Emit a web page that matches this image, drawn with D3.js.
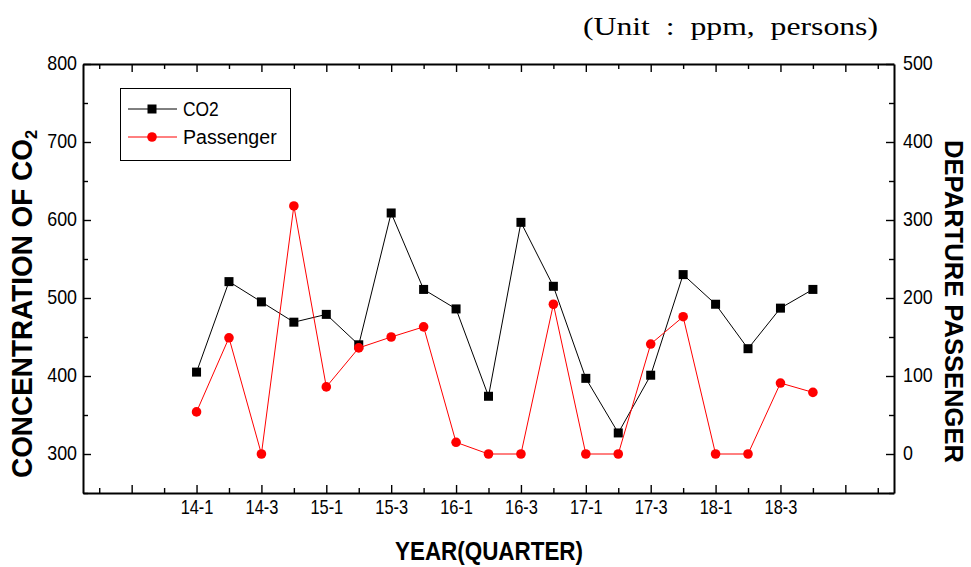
<!DOCTYPE html>
<html>
<head>
<meta charset="utf-8">
<script src="https://cdn.jsdelivr.net/npm/d3@7"></script>
<style>
  body { margin: 0; background: #fff; }
  svg { display: block; font-family: "Liberation Sans", Arial, sans-serif; }
</style>
</head>
<body>
<div id="chart"></div>
<script>
// quarterly data
const quarters = ['14-1', '14-2', '14-3', '14-4', '15-1', '15-2', '15-3', '15-4',
  '16-1', '16-2', '16-3', '16-4', '17-1', '17-2', '17-3', '17-4',
  '18-1', '18-2', '18-3', '18-4'];
const co2 = [405, 521, 495, 469, 479, 440, 609, 511, 486, 374, 597, 515,
  397, 327, 401, 530, 492, 435, 487, 511];
const passengers = [54, 149, 0, 318, 86, 136, 150, 163, 15, 0, 0, 192,
  0, 0, 141, 176, 0, 0, 91, 79];
const co2Ticks = d3.range(250, 801, 50);
const passengerTicks = d3.range(-50, 501, 50);

const width = 971, height = 567;
const plot = {left: 83, right: 894, top: 64, bottom: 493};

const svg = d3.select('#chart').append('svg')
  .attr('width', width)
  .attr('height', height);

const x = d3.scaleLinear().domain([-3.5, 21.5]).range([plot.left, plot.right]);
const yLeft = d3.scaleLinear().domain([250, 800]).range([plot.bottom, plot.top]);
const yRight = d3.scaleLinear().domain([-50, 500]).range([plot.bottom, plot.top]);

// squeeze a text element horizontally, the original labels are narrow
const squeeze = (sel, k) => sel.each(function() {
  const w = this.getComputedTextLength();
  if (w > 0) {
    this.setAttribute('textLength', w * k);
    this.setAttribute('lengthAdjust', 'spacingAndGlyphs');
  }
});

const xTicks = d3.range(-3, 22);
const xLabel = i => (i >= 0 && i < quarters.length && i % 2 === 0) ? quarters[i] : '';

let styleAxis = (g) => {
  g.select('.domain').attr('stroke', '#000').attr('stroke-width', 2);
  g.selectAll('.tick line').attr('stroke', '#000').attr('stroke-width', 1.4);
  g.selectAll('.tick text').attr('fill', '#000').style('font-size', '21px');
};

// bottom axis
let gBottom = svg.append('g')
  .attr('transform', 'translate(0,' + plot.bottom + ')')
  .call(d3.axisBottom(x).tickValues(xTicks).tickFormat(xLabel)
    .tickSizeInner(-5).tickSizeOuter(0).tickPadding(6));
styleAxis(gBottom);
gBottom.selectAll('.tick line').attr('y2', d => d % 2 === 0 ? -8 : -5);
squeeze(gBottom.selectAll('.tick text'), 0.78);

// top axis, ticks only
let gTop = svg.append('g')
  .attr('transform', 'translate(0,' + plot.top + ')')
  .call(d3.axisTop(x).tickValues(xTicks).tickFormat('')
    .tickSizeInner(-5).tickSizeOuter(0));
styleAxis(gTop);
gTop.selectAll('.tick line').attr('y2', d => d % 2 === 0 ? 8 : 5);

// left axis (CO2)
let gLeft = svg.append('g')
  .attr('transform', 'translate(' + plot.left + ',0)')
  .call(d3.axisLeft(yLeft).tickValues(co2Ticks)
    .tickFormat(v => (v % 100 === 0 && v >= 300) ? v : '')
    .tickSizeInner(-5).tickSizeOuter(0).tickPadding(6));
styleAxis(gLeft);
gLeft.selectAll('.tick line').attr('x2', d => d % 100 === 0 ? 8 : 5);
gLeft.selectAll('.tick text').attr('dy', '0.25em');
squeeze(gLeft.selectAll('.tick text'), 0.85);

// right axis (passengers)
let gRight = svg.append('g')
  .attr('transform', 'translate(' + plot.right + ',0)')
  .call(d3.axisRight(yRight).tickValues(passengerTicks)
    .tickFormat(v => (v % 100 === 0 && v >= 0) ? v : '')
    .tickSizeInner(-5).tickSizeOuter(0).tickPadding(9));
styleAxis(gRight);
gRight.selectAll('.tick line').attr('x2', d => d % 100 === 0 ? -8 : -5);
gRight.selectAll('.tick text').attr('dy', '0.25em');
squeeze(gRight.selectAll('.tick text'), 0.85);

// series
let co2Line = d3.line().x((d, i) => x(i)).y(d => yLeft(d));
let paxLine = d3.line().x((d, i) => x(i)).y(d => yRight(d));

svg.append('path')
  .datum(co2)
  .attr('d', co2Line)
  .attr('fill', 'none')
  .attr('stroke', '#000')
  .attr('stroke-width', 1);

svg.append('g').selectAll('rect')
  .data(co2)
  .enter().append('rect')
  .attr('x', (d, i) => x(i) - 4.5)
  .attr('y', d => yLeft(d) - 4.5)
  .attr('width', 9)
  .attr('height', 9)
  .attr('fill', '#000');

svg.append('path')
  .datum(passengers)
  .attr('d', paxLine)
  .attr('fill', 'none')
  .attr('stroke', '#ff0000')
  .attr('stroke-width', 1);

svg.append('g').selectAll('circle')
  .data(passengers)
  .enter().append('circle')
  .attr('cx', (d, i) => x(i))
  .attr('cy', d => yRight(d))
  .attr('r', 4.8)
  .attr('fill', '#ff0000');

// legend
let legend = svg.append('g');
legend.append('rect')
  .attr('x', 120.5).attr('y', 88.5)
  .attr('width', 170).attr('height', 72)
  .attr('fill', '#fff')
  .attr('stroke', '#000')
  .attr('stroke-width', 1);

let legendItems = [
  {name: 'CO2', color: '#000', shape: 'square', y: 109, k: 0.87},
  {name: 'Passenger', color: '#ff0000', shape: 'circle', y: 137, k: 0.98}
];
legendItems.forEach(item => {
  legend.append('line')
    .attr('x1', 128).attr('x2', 177)
    .attr('y1', item.y).attr('y2', item.y)
    .attr('stroke', item.color)
    .attr('stroke-width', 1);
  if (item.shape === 'square') {
    legend.append('rect')
      .attr('x', 152 - 4.5).attr('y', item.y - 4.5)
      .attr('width', 9).attr('height', 9)
      .attr('fill', item.color);
  } else {
    legend.append('circle')
      .attr('cx', 152).attr('cy', item.y).attr('r', 4.8)
      .attr('fill', item.color);
  }
  let t = legend.append('text')
    .attr('x', 183).attr('y', item.y + 7)
    .style('font-size', '20px')
    .text(item.name);
  squeeze(t, item.k);
});

// axis titles
let leftTitle = svg.append('text')
  .attr('transform', 'translate(32,304) rotate(-90)')
  .attr('text-anchor', 'middle')
  .style('font-size', '29px')
  .style('font-weight', 'bold');
leftTitle.append('tspan').text('CONCENTRATION OF CO');
leftTitle.append('tspan')
  .attr('dy', 5)
  .style('font-size', '17px')
  .text('2');
leftTitle.attr('textLength', 348).attr('lengthAdjust', 'spacingAndGlyphs');

let rightTitle = svg.append('text')
  .attr('transform', 'translate(945,301.5) rotate(90)')
  .attr('text-anchor', 'middle')
  .style('font-size', '25px')
  .style('font-weight', 'bold')
  .text('DEPARTURE PASSENGER');
rightTitle.attr('textLength', 323).attr('lengthAdjust', 'spacingAndGlyphs');

svg.append('text')
  .attr('x', 489).attr('y', 560)
  .attr('text-anchor', 'middle')
  .style('font-size', '26px')
  .style('font-weight', 'bold')
  .attr('textLength', 188)
  .attr('lengthAdjust', 'spacingAndGlyphs')
  .text('YEAR(QUARTER)');

// unit note, wide spacing like the original Korean serif
svg.append('text')
  .attr('x', 583).attr('y', 35)
  .style('font-family', '"Liberation Serif", "DejaVu Serif", serif')
  .style('font-size', '25px')
  .style('white-space', 'pre')
  .attr('textLength', 295)
  .attr('lengthAdjust', 'spacingAndGlyphs')
  .text('(Unit  :  ppm,  persons)');
</script>
</body>
</html>
